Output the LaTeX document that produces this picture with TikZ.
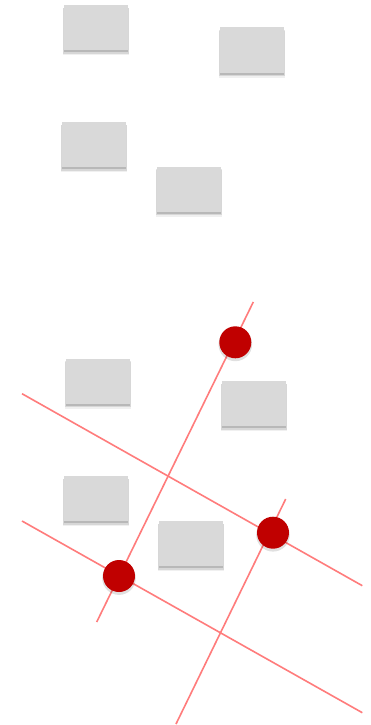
\documentclass[tikz,border=0pt]{standalone}
\usetikzlibrary{shadows}
\definecolor{boxgray}{HTML}{D9D9D9}
\definecolor{linered}{HTML}{FF7C7C}
\definecolor{dotred}{HTML}{C00000}
\tikzset{
  softshadow/.style={
    drop shadow={shadow xshift=0pt, shadow yshift=-4pt, opacity=0.06, fill=black, shadow scale=1.04},
    drop shadow={shadow xshift=0pt, shadow yshift=-3pt, opacity=0.10, fill=black, shadow scale=1.02},
    drop shadow={shadow xshift=0pt, shadow yshift=-2pt, opacity=0.14, fill=black}},
  card/.style={rectangle, fill=boxgray, minimum width=64pt, minimum height=45pt, inner sep=0pt, softshadow},
  dot/.style={circle, fill=dotred, minimum size=32pt, inner sep=0pt,
    drop shadow={shadow xshift=0pt, shadow yshift=-2pt, opacity=0.12, fill=black, shadow scale=1.05}},
  guide/.style={draw=linered, line width=1.6pt}
}
\begin{document}
\begin{tikzpicture}[x=1pt, y=-1pt]
\useasboundingbox[fill=white] (0,0) rectangle (370,725);
% cards
\node[card] (a) at (96,27.5) {};
\node[card] (b) at (252,50) {};
\node[card] (c) at (94,144.5) {};
\node[card] (d) at (189,189) {};
\node[card] (e) at (98,381) {};
\node[card] (f) at (254,403.5) {};
\node[card] (g) at (96,498.5) {};
\node[card] (h) at (191,543.5) {};
% guide line ends
\coordinate (l1s) at (253.3,302);
\coordinate (l1e) at (96.7,622);
\coordinate (l2s) at (22,393.7);
\coordinate (l2e) at (362.3,585.7);
\coordinate (l3s) at (22,521);
\coordinate (l3e) at (362.3,712.7);
\coordinate (l4s) at (285.7,499);
\coordinate (l4e) at (176,724);
\draw[guide] (l1s) -- (l1e);
\draw[guide] (l2s) -- (l2e);
\draw[guide] (l3s) -- (l3e);
\draw[guide] (l4s) -- (l4e);
% dots
\node[dot] (p1) at (235.3,342.3) {};
\node[dot] (p2) at (273,532.7) {};
\node[dot] (p3) at (119,576) {};
\end{tikzpicture}
\end{document}
